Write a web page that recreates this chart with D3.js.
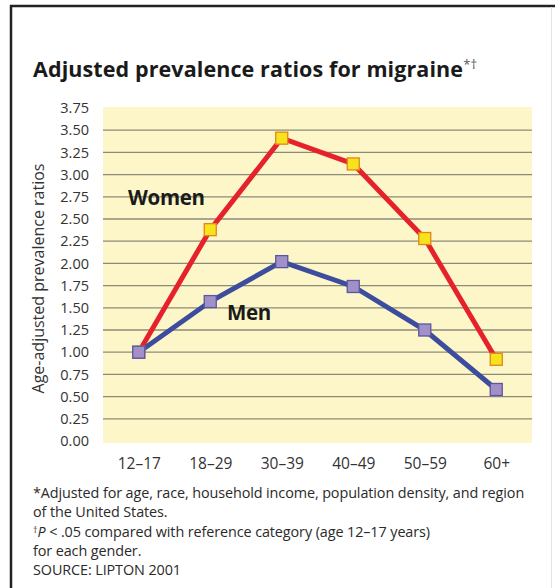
<!DOCTYPE html>
<html>
<head>
<meta charset="utf-8">
<script src="https://cdn.jsdelivr.net/npm/d3@7"></script>
<style>
  body { margin: 0; background: #fff; }
  svg { display: block; font-family: "Open Sans", "DejaVu Sans", sans-serif; }
</style>
</head>
<body>
<div id="chart"></div>
<script>
const ageGroups = ["12–17", "18–29", "30–39", "40–49", "50–59", "60+"];
const women = [1.00, 2.38, 3.41, 3.12, 2.28, 0.92];
const men = [1.00, 1.57, 2.02, 1.74, 1.25, 0.58];
const yTicks = [0, 0.25, 0.5, 0.75, 1, 1.25, 1.5, 1.75, 2, 2.25, 2.5, 2.75, 3, 3.25, 3.5, 3.75];
const footnotes = [
  "*Adjusted for age, race, household income, population density, and region",
  "of the United States.",
  null, // dagger line, built below
  "for each gender.",
  "SOURCE: LIPTON 2001"
];

const W = 555, H = 588;
const plot = { left: 103, right: 532, top: 108, bottom: 441 };

const svg = d3.select("#chart").append("svg")
  .attr("width", W)
  .attr("height", H);

// frame
svg.append("line").attr("x1", 10).attr("x2", W).attr("y1", 6).attr("y2", 6)
  .attr("stroke", "#222").attr("stroke-width", 2.5);
svg.append("line").attr("x1", 11).attr("x2", 11).attr("y1", 5).attr("y2", H)
  .attr("stroke", "#222").attr("stroke-width", 2.5);
svg.append("line").attr("x1", 551.5).attr("x2", 551.5).attr("y1", 7).attr("y2", H)
  .attr("stroke", "#e4e4e4").attr("stroke-width", 1);

svg.append("text")
  .attr("x", 33).attr("y", 77)
  .attr("font-size", 21.5).attr("font-weight", "bold").attr("fill", "#1a1a1a")
  .attr("letter-spacing", 0.1)
  .text("Adjusted prevalence ratios for migraine")
  .append("tspan").attr("dy", -8).attr("font-size", 13).attr("font-weight", "normal")
  .attr("fill", "#555").text("*†");

const x = d3.scalePoint().domain(ageGroups).range([plot.left, plot.right]).padding(0.5);
const y = d3.scaleLinear().domain([0, 3.75]).range([plot.bottom, plot.top]);

svg.append("rect")
  .attr("x", plot.left).attr("y", plot.top - 1)
  .attr("width", plot.right - plot.left).attr("height", plot.bottom - plot.top + 3)
  .attr("fill", "#fdf6c9");

// gridlines
svg.append("g")
  .selectAll("line")
  .data(yTicks.filter(t => t > 0 && t < 3.75))
  .join("line")
  .attr("x1", plot.left).attr("x2", plot.right)
  .attr("y1", d => y(d)).attr("y2", d => y(d))
  .attr("stroke", "#8c8b78").attr("stroke-width", 1.3);

// y axis
const yAxis = svg.append("g")
  .attr("transform", `translate(${plot.left - 14},0)`)
  .call(d3.axisLeft(y).tickValues(yTicks).tickFormat(d3.format(".2f")).tickSize(0).tickPadding(0));
yAxis.select(".domain").remove();
yAxis.selectAll("text").attr("font-size", 14.5).attr("fill", "#333")
  .attr("font-family", "'Open Sans', sans-serif");

// x axis
const xAxis = svg.append("g")
  .attr("transform", `translate(0,${plot.bottom + 17})`)
  .call(d3.axisBottom(x).tickSize(0).tickPadding(0));
xAxis.select(".domain").remove();
xAxis.selectAll("text").attr("font-size", 15.5).attr("fill", "#333")
  .attr("font-family", "'Open Sans', sans-serif");

svg.append("text")
  .attr("transform", `translate(44,${(plot.top + plot.bottom) / 2 + 4}) rotate(-90)`)
  .attr("text-anchor", "middle")
  .attr("font-size", 16).attr("fill", "#333")
  .text("Age-adjusted prevalence ratios");

const line = d3.line().x((d, i) => x(ageGroups[i])).y(d => y(d));

const series = [
  { name: "Women", values: women, line: "#e5222b", fill: "#f7e21c", stroke: "#e0861c", lx: 128, ly: 205 },
  { name: "Men", values: men, line: "#3c4d9e", fill: "#a291c8", stroke: "#5b56a0", lx: 227, ly: 320 }
];

// draw women line first, then men on top (men's start covers women at 12–17)
series.forEach(s => {
  svg.append("path")
    .attr("d", line(s.values))
    .attr("fill", "none")
    .attr("stroke", s.line)
    .attr("stroke-width", 5)
    .attr("stroke-linejoin", "miter");
});

series.forEach(s => {
  svg.append("g")
    .selectAll("rect")
    .data(s.values)
    .join("rect")
    .attr("x", (d, i) => x(ageGroups[i]) - 6)
    .attr("y", d => y(d) - 6)
    .attr("width", 12).attr("height", 12)
    .attr("fill", s.fill)
    .attr("stroke", s.stroke)
    .attr("stroke-width", 1.3);

  svg.append("text")
    .attr("x", s.lx).attr("y", s.ly)
    .attr("font-size", 20.5).attr("font-weight", "bold").attr("fill", "#1a1a1a")
    .attr("letter-spacing", -0.3)
    .text(s.name);
});

// footnotes
const fn = svg.append("g").attr("font-size", 14.4).attr("fill", "#2a2a2a")
  .attr("letter-spacing", -0.1);
const fnY = [498, 517, 537, 556, 575];
footnotes.forEach((t, i) => {
  const el = fn.append("text").attr("x", 33).attr("y", fnY[i]);
  if (t !== null) {
    el.text(t);
  } else {
    el.append("tspan").attr("font-size", 9).attr("dy", -4).text("†");
    el.append("tspan").attr("font-style", "italic").attr("dy", 4).text("P");
    el.append("tspan").text(" < .05 compared with reference category (age 12–17 years)");
  }
});
</script>
</body>
</html>
